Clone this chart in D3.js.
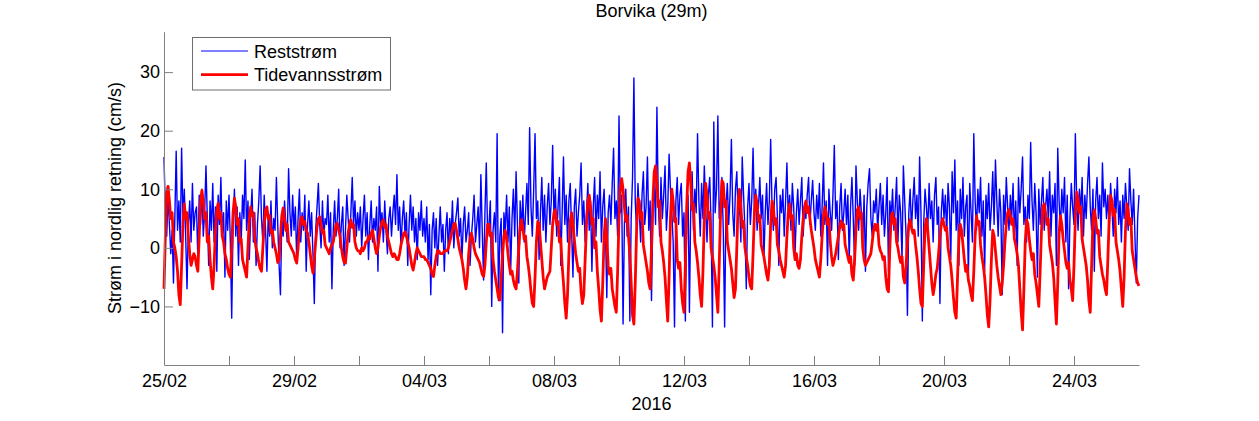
<!DOCTYPE html>
<html><head><meta charset="utf-8">
<script src="https://cdn.jsdelivr.net/npm/d3@7"></script>
<style>
body{margin:0;background:#fff}
text{font-family:Arial,"Liberation Sans",sans-serif;fill:#000}
</style>
</head><body>
<svg id="chart" width="1259" height="421"></svg>
<script>
// ---- data (hourly samples from 25/02/2016 00:00 to 26/03/2016 00:00) ----
const title = "Borvika (29m)";
const yLabel = "Strøm i nordlig retning (cm/s)";
const xLabel = "2016";
const seriesNames = ["Reststrøm", "Tidevannsstrøm"];
const startUTC = Date.UTC(2016, 1, 25);
const tickLabels = ["25/02","29/02","04/03","08/03","12/03","16/03","20/03","24/03"];
const yTicks = [-10, 0, 10, 20, 30];

const reststrom = [
15.5,6,2,9,4,-1,3,-6,5,16.5,3,8,1,17,5,10,2,-7,4,8,1,11,3,6,
7,-2,9,4,10,2,6,14,5,-3,8,3,11,1,7,-4,9,4,12,2,6,-5,8,3,
9,1,-12,4,10,2,7,-3,6,1,9,5,15,3,8,-2,5,10,1,6,-3,4,8,14,
5,1,9,3,-4,6,2,8,0,5,3,12,4,-3,-8,5,2,8,4,1,13.5,6,2,9,
3,7,-2,5,10,1,6,3,9,-4,4,8,2,6,-1,-9.5,3,7,11,4,0,8,2,5,
4,9,1,6,-7,3,8,2,5,10,0,4,7,-3,3,9,5,1,6,12,4,8,2,6,
3,7,0,5,9,2,6,-2,4,8,1,5,3,7,-4,10.5,4,6,1,8,3,-1,5,7,
2,6,9,4,12.5,3,7,0,5,8,2,6,-3,4,9,3,7,1,5,-2,6,3,8,2,
5,1,7,-2,4,-8,3,6,0,5,-3,2,7,1,4,-4,3,6,-1,5,2,8,0,4,
6,8.5,2,5,-2,4,7,1,3,6,-3,2,5,9,1,4,7,0,12.5,3,-5.5,6,14.5,2,
4,8,-10,3,6,1,19.5,-9,2,5,-14.5,6,3,9,1,7,-4,5,10,2,13,4,-6,8,
3,9,1,6,11,4,20.5,7,2,10,19.5,5,8,-2,6,12,3,9,1,7,11,4,8,17.5,
5,10,2,7,12,-3,6,15.5,4,9,1,8,11,3,-5,7,10,2,6,9,14.5,4,8,1,
6,11,3,8,-4,7,12,2,9,5,13,1,7,10,3,-8.5,6,9,4,11,17,5,8,2,
22.5,6,9,-13,4,10,2,7,-12.5,5,12,29,8,3,11,6,1,9,13,4,7,15.5,3,8,
-9,6,11,4,24,8,2,12,5,9,14,3,7,16,10,6,1,-13.5,8,12,4,9,11,2,
6,-12.5,5,9,-11,7,13,3,10,6,19.5,8,2,11,5,14,7,1,9,12,4,-13.5,21.5,6,
10,22.5,5,8,12,3,-13.5,7,11,4,9,18.5,6,2,10,13,5,8,1,15.5,9,3,-7,7,
11,4,8,17,6,10,3,7,12,5,9,-2,6,11,4,8,18.5,7,3,10,12,5,-3,9,
6,10,2,8,14.5,5,9,3,11,7,-1,6,10,4,8,12,2,7,5,9,12,4,8,11.5,
6,3,9,5,11,2,7,14.5,4,8,-3,10,6,3,9,17.5,5,8,-2,7,11,3,6,10,
4,9,-2,7,12,5,-3,14,8,3,10,6,1,9,-4,7,11,13.5,5,2,8,6,10,3,
7,11,4,9,2,6,12,-4,8,5,10,3,7,12,1,9,6,-2,14,8,2,-11.5,6,10,
3,8,12,5,9,2,15.5,6,-12.5,4,10,7,3,11,5,8,1,9,12,4,7,-9.5,6,10,
5,9,2,11,7,-2,13,6,15,3,8,-3,10,5,12,2,7,9,-5,11,6,1,19.5,8,
3,10,6,12,2,8,-4,9,5,11,3,7,13,4,15,8,2,10,6,-8,9,4,12,7,
3,9,5,11,2,8,-3,12,6,10,15.5,4,7,1,9,5,18,8,3,11,6,-5,10,4,
8,12,3,7,10,5,13,2,9,6,11,-3,17,8,3,10,6,12,1,9,-7,5,11,7,
4,19.5,8,3,10,6,12,2,9,5,11,15.5,7,3,10,-4,8,12,5,9,2,14.5,7,10,
5,9,3,11,7,2,10,6,12,4,8,1,9,5,11,7,3,13.5,8,4,10,2,-6,5,
9
];

const tidevannsstrom = [
-7,2,9.5,10.5,8,5,6,1,0,-1.5,-4,-8,-9.7,-3,4,7.5,5,6,2,-1,-3,-2,-1,-1.5,
-3,-4,2,8,9.8,8,5,6,1,2,-2,-5,-7,-3,3,6.5,7.6,5,6,2,1,-1,-2,-3.5,
-4.5,-5,0,6,8.5,7,4,5,1,1.5,-2,-3,-4,-5,0,5,7,5.5,6,1.5,0,-1,-2.5,-3.5,
-4,0,4,6.5,7,5,5.5,2.5,3,1,0,-1,-2.5,-2,2,5.5,6.8,5,3,4,1,0.5,0,-0.5,
-1,-2,-2.6,0,3,5,5.3,4,4.5,3,2.5,1,-1,-3,-4.3,-2,1,3.5,5,5.3,4,2.5,3,0.5,
0,-0.5,-1,0,0.5,1,2.5,4,4.2,3,2,0,-1.5,-2.5,-2.6,0,2.5,4,4.8,3.5,4,1,0,-0.5,
-0.5,-1,0,-0.5,0,1,1,2,1.5,2.5,3,1.5,0,-1,0,2,3.5,4.5,4.8,3.5,4,2,1,0,
-1,-1.5,-1,-1.5,-2,-2,-1,0.5,1.5,2.5,2.7,2,1,0,-1.5,-3,-3.8,-2.5,-1,0,-0.5,-1,-1.5,-1.5,
-1.5,-2,-2,-2.5,-3,-3.5,-4.5,-4.9,-3,-1.5,-0.5,-0.5,-1,-1,-1,-0.5,-0.5,-0.5,0,1,2,3,4,4.2,
3,1.5,0,-1,-2,-3.5,-5.5,-7,-5,-1,1.5,2.5,1.5,0,-1,-1.5,-2,-2.5,-3.5,-4.5,-4.9,-3,1,4,
4,2,2.5,-2,-4,-5.5,-7,-8.5,-8.9,-5,-1,2,3,1.5,-1,-3,-4.5,-4,-5.5,-6.5,-7,-4,0,3.5,
4.8,3.5,1.5,2,-1.5,-3,-5,-7.5,-9.5,-10,-5,1,4.5,4,1,-2,-5,-7,-6,-5,-4.5,-4,0,4,
6,6.5,4,4.5,1,1.5,-3,-6,-9.5,-12,-8,-1,4.5,6,4,1.5,-1,-2.5,-4,-3.5,-7.5,-9.5,-8,-2,
4,8,9,7,4,5,0,1,-4,-7,-10.5,-12.5,-6,2,5,1.5,-3,-4.5,-3.5,-7,-8.5,-10,-11,-4,
5,10,11.8,10,7,4.5,5.5,2,-1,-6,-11.5,-13,-6,3,8.5,8,5,6,0.5,-1,-2.5,-4,-6,-7,
0,8,13,14,11,7,8,1,-0.5,-2.5,-5,-9,-12.5,-5,5,10,8,4.5,5,-2,-3.5,-2.5,-7,-9.5,
-11,-3,7,13,14.5,11,6.5,7.5,1,-0.5,-2.5,-5,-8,-10,-4,5,11,9,5,6,0,-1.5,-3,-5,
-8,-11,-3,6,11.5,11,7,8,1,-0.5,-2,-3.5,-6,-8.5,-7,0,8,10,7,3.5,4.5,0,-1.5,-3,
-5,-6.5,-7,-1,6,9,7.5,4.5,5.5,0.5,-0.5,-1.5,-3,-4.5,-5.5,-3,4,8,7,4,5,0.5,-0.5,-2,
-3,-4,-5,-3,2,6,7.5,5,5.5,0,-2,-1,-3,-3.5,-2,2,5,7,8,6,7,5,3,1.5,
0,-2,-3,-4,-5,-2,2,5.5,7,6,4,5,1,-1.5,-3,-2,-1,0.5,2,3.5,4.6,3.5,4,0.5,
-0.5,-1.5,-2.5,-1.5,-4.5,-5.5,-2,3,6.5,7,5,6,0,-2,-3,-2.5,-2,-1.5,-1,1,3,4,3,4,
0.5,-0.5,-1,-2,-1.5,-5,-7,-7.5,0,5.5,6,4,5,1,0,-1.5,-2.5,-1.5,-5,-6,-3,1,4,4.8,
3.5,2.5,3,0.5,-1.5,-4,-7,-9.5,-10,-3,3.5,5,3,0,-3,-6,-8,-6.5,-4.5,-3.5,-1,2,4,5,
4,3,3.5,0,-1.5,-3,-5.5,-8.5,-11,-12,-5,1.5,4,3,0.5,-2,-4,-3,-5.5,-6.5,-8,-9,-4,2,
5.5,4,4.5,0.5,-1.5,-3,-5,-8,-11.5,-13.5,-9,-2,3,2,-0.5,-3,-5,-6.5,-8,-6,-3,1,4,6,
6.5,5.5,4,5,1.5,0.5,-1,-3,-7,-11,-14,-7,1,4.8,4,1.5,-0.5,-2,-1,-4.5,-6,-8,-10,-4,
3,7,7.5,6,4,5,0.5,-1,-2.5,-5,-9,-13,-6,2.5,5.5,4,1.5,-0.5,-2.5,-3.5,-2.5,-5.5,-7,-9,
-3,5,9.5,8.5,6,7,1.5,0,-1.5,-3,-5.5,-9,-11,-3,5,6.5,5,2.5,3,-1.5,-3,-4.5,-5.5,-7,
-8,-2,5,9,8,5.5,6.5,1,-0.5,-2,-4,-7,-10,-5,3,7.5,6.5,4,5,-0.5,-2,-3.5,-5,-6,
-6.5
];

// ---- chart ----
const svg = d3.select("#chart");
const plotL = 164, plotR = 1139, plotT = 31.7, plotB = 365;
const HOUR = 3600e3, DAY = 86400e3;

const x = d3.scaleUtc()
  .domain([new Date(startUTC), new Date(startUTC + 30 * DAY)])
  .range([plotL, plotR]);
const y = d3.scaleLinear().domain([-20, 36.9]).range([plotB, plotT]);

const timeAt = i => new Date(startUTC + i * HOUR);
const line = d3.line().x((d, i) => x(timeAt(i))).y(d => y(d));

svg.append("path").datum(reststrom)
  .attr("d", line).attr("fill", "none")
  .attr("stroke", "#0000ff").attr("stroke-width", 1.4).attr("stroke-linejoin", "round");
svg.append("path").datum(tidevannsstrom)
  .attr("d", line).attr("fill", "none")
  .attr("stroke", "#ff0000").attr("stroke-width", 2.8).attr("stroke-linejoin", "round");

// x axis
const xTickVals = d3.range(0, 29, 2).map(d => new Date(startUTC + d * DAY));
const xAxis = d3.axisBottom(x)
  .tickValues(xTickVals)
  .tickSize(-9).tickSizeOuter(0)
  .tickFormat((d, i) => i % 2 === 0 ? tickLabels[i / 2] : "");
const gx = svg.append("g").attr("transform", `translate(0,${plotB})`).call(xAxis);
gx.select(".domain").attr("stroke", "#808080");
gx.selectAll(".tick line").attr("stroke", "#808080");
gx.selectAll("text").attr("y", 22).attr("dy", null)
  .style("font-size", "18px").attr("fill", "#000");

// y axis
const yAxis = d3.axisLeft(y).tickValues(yTicks).tickSize(-9).tickSizeOuter(0).tickPadding(4);
const gy = svg.append("g").attr("transform", `translate(${plotL},0)`).call(yAxis);
gy.select(".domain").attr("stroke", "#808080");
gy.selectAll(".tick line").attr("stroke", "#808080");
gy.selectAll("text").style("font-size", "18px").attr("fill", "#000");

// titles
svg.append("text").attr("x", (plotL + plotR) / 2).attr("y", 17)
  .attr("text-anchor", "middle").style("font-size", "18px").text(title);
svg.append("text").attr("x", (plotL + plotR) / 2).attr("y", 410)
  .attr("text-anchor", "middle").style("font-size", "18px").text(xLabel);
svg.append("text").attr("transform", "translate(121,198) rotate(-90)")
  .attr("text-anchor", "middle").style("font-size", "18px").text(yLabel);

// legend
const lg = svg.append("g");
lg.append("rect").attr("x", 192.5).attr("y", 37.5).attr("width", 198).attr("height", 52.5)
  .attr("fill", "#fff").attr("stroke", "#6e6e6e").attr("stroke-width", 1);
const legendItems = [
  {name: seriesNames[0], color: "#0000ff", w: 1.2, yy: 51},
  {name: seriesNames[1], color: "#ff0000", w: 2.8, yy: 74.7}
];
legendItems.forEach(it => {
  lg.append("line").attr("x1", 201).attr("x2", 248).attr("y1", it.yy).attr("y2", it.yy)
    .attr("stroke", it.color).attr("stroke-width", it.w);
  lg.append("text").attr("x", 254).attr("y", it.yy + 6.5)
    .style("font-size", "18px").text(it.name);
});
</script>
</body></html>
